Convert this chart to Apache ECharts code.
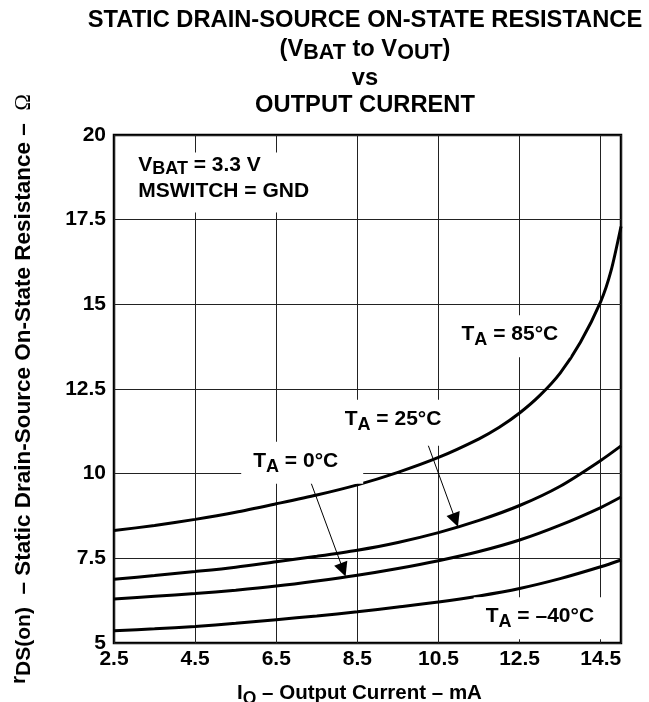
<!DOCTYPE html>
<html><head><meta charset="utf-8">
<script src="https://cdn.jsdelivr.net/npm/echarts@6/dist/echarts.min.js"></script>
<style>html,body{margin:0;padding:0;background:#fff}#c{width:649px;height:702px}</style>
</head><body><div id="c"></div>
<script>
// ---- data ----
const currentMA = [2.5, 3.5, 4.5, 5.5, 6.5, 7.5, 8.5, 9.5, 10.5, 11.5, 12.5, 13.5, 14.5, 15];
const rMinus40 = [5.36, 5.42, 5.49, 5.58, 5.69, 5.80, 5.92, 6.06, 6.21, 6.39, 6.61, 6.90, 7.25, 7.45];
const r0 = [6.30, 6.38, 6.46, 6.56, 6.68, 6.83, 7.00, 7.20, 7.43, 7.70, 8.04, 8.48, 9.00, 9.31];
const r25 = [6.88, 6.99, 7.11, 7.24, 7.40, 7.56, 7.74, 7.97, 8.26, 8.62, 9.06, 9.63, 10.39, 10.82];
const current85 = [2.5, 3.5, 4.5, 5.5, 6.5, 7.5, 8.5, 9.5, 10.5, 11.5, 12.0, 12.5, 13.0, 13.5, 14.0, 14.5, 14.75, 15.0];
const r85 = [8.32, 8.47, 8.65, 8.86, 9.11, 9.37, 9.67, 10.04, 10.48, 11.03, 11.37, 11.79, 12.31, 12.97, 13.88, 15.08, 15.97, 17.3];
const xTickLabels = ['2.5', '4.5', '6.5', '8.5', '10.5', '12.5', '14.5'];
const yTickLabels = ['5', '7.5', '10', '12.5', '15', '17.5', '20'];
const curveLabels = ['T_A = 85°C', 'T_A = 25°C', 'T_A = 0°C', 'T_A = –40°C'];
// anchor points of annotation texts and arrows, in data units (mA, ohm)
const labelAnchors = [[12.26, 14.06], [9.38, 11.50], [7.14, 10.32], [13.0, 5.73]];
const arrow25 = [[10.09, 11.35], [10.92, 8.63]];
const arrow0 = [[7.33, 9.82], [8.15, 7.16]];
const condAnchor = [2.9, 18.6];

// ---- chart ----
const FF = '"Liberation Sans", Arial, Helvetica, sans-serif';
const pair = (xs, ys) => xs.map((x, i) => [x, ys[i]]);
const subRich = (fs, sfs) => ({
  n: { fontSize: fs, fontWeight: 'bold', fontFamily: FF, color: '#000', fill: '#000', lineHeight: 30, verticalAlign: 'middle' },
  s: { fontSize: sfs, fontWeight: 'bold', fontFamily: FF, color: '#000', fill: '#000', lineHeight: 17, verticalAlign: 'bottom' }
});
const toRich = (t) => { const m = t.split('_'); const first = m[0]; const sub = m[1][0]; const rest = m[1].slice(1); return '{n|' + first + '}{s|' + sub + '}{n|' + rest + '}'; };
const labelPads = [[4, 12, 8, 12], [4, 12, 12, 12], [4, 25, 8, 12], [4, 12, 8, 12]];

const chart = echarts.init(document.getElementById('c'), null, { renderer: 'canvas' });
const lineStyle = { color: '#000', width: 3 };
const labelPoints = curveLabels.map((t, i) => ({
  coord: labelAnchors[i], symbol: 'circle', symbolSize: 0,
  label: { show: true, position: 'inside', formatter: toRich(t), rich: subRich(21, 18),
           backgroundColor: '#fff', padding: labelPads[i] }
}));
labelPoints.push({
  coord: condAnchor, symbol: 'circle', symbolSize: 0,
  label: { show: true, position: 'right', distance: 0, align: 'left',
    formatter: '{n|V}{s|BAT}{n| = 3.3 V}\n{n|MSWITCH = GND}',
    rich: {
      n: { fontSize: 21, fontWeight: 'bold', fontFamily: FF, color: '#000', lineHeight: 26, verticalAlign: 'middle' },
      s: { fontSize: 18, fontWeight: 'bold', fontFamily: FF, color: '#000', lineHeight: 13, verticalAlign: 'bottom' }
    },
    backgroundColor: '#fff', padding: [0, 8, 8, 8] }
});

const option = {
  animation: false,
  backgroundColor: '#fff',
  grid: { left: 114, right: 28, top: 135, bottom: 59, outerBoundsMode: 'none', containLabel: false,
          show: true, borderColor: '#000', borderWidth: 2.5, backgroundColor: 'transparent' },
  xAxis: {
    type: 'value', min: 2.5, max: 15, interval: 2,
    axisLine: { show: false }, axisTick: { show: false },
    splitLine: { show: true, lineStyle: { color: '#222', width: 1 } },
    axisLabel: { margin: 6, fontSize: 21, fontWeight: 'bold', fontFamily: FF, color: '#000',
      formatter: (v) => { const s = (Math.round(v * 10) / 10).toFixed(1); return xTickLabels.includes(s) ? s : ''; } },
    name: '{n|I}{s|O}{n| – Output Current – mA}',
    nameLocation: 'middle', nameGap: 35,
    nameTextStyle: { rich: subRich(20.5, 17.5), padding: [0, 16, 0, 0] }
  },
  yAxis: {
    type: 'value', min: 5, max: 20, interval: 2.5,
    axisLine: { show: false }, axisTick: { show: false },
    splitLine: { show: true, lineStyle: { color: '#222', width: 1 } },
    axisLabel: { margin: 8, fontSize: 21, fontWeight: 'bold', fontFamily: FF, color: '#000',
      formatter: (v) => { const s = String(Math.round(v * 10) / 10); return yTickLabels.includes(s) ? s : ''; } },
    name: '{r|r}{d|DS(on)}{m|  – Static Drain-Source On-State Resistance –  }{o|Ω}',
    nameLocation: 'middle', nameGap: 75,
    nameTextStyle: { rich: {
      r: { fontSize: 21, fontWeight: 'bold', fontFamily: FF, color: '#000', lineHeight: 12, verticalAlign: 'top' },
      d: { fontSize: 21, fontWeight: 'bold', fontFamily: FF, color: '#000', lineHeight: 30, verticalAlign: 'middle' },
      m: { fontSize: 22.5, fontWeight: 'bold', fontFamily: FF, color: '#000', lineHeight: 30, verticalAlign: 'middle' },
      o: { fontSize: 22.5, fontWeight: 'normal', fontFamily: '"Liberation Serif", "DejaVu Serif", serif', color: '#000', lineHeight: 30, verticalAlign: 'middle' }
    } }
  },
  series: [
    { name: '85', type: 'line', data: pair(current85, r85), smooth: 0.25, showSymbol: false, symbol: 'none', lineStyle, silent: true,
      markPoint: { silent: true, data: labelPoints } },
    { name: '25', type: 'line', data: pair(currentMA, r25), smooth: 0.3, showSymbol: false, symbol: 'none', lineStyle, silent: true,
      markLine: { silent: true, symbol: ['none', 'triangle'], symbolSize: 14, label: { show: false },
        lineStyle: { color: '#000', width: 1, type: 'solid' },
        data: [[{ coord: arrow25[0] }, { coord: arrow25[1] }], [{ coord: arrow0[0] }, { coord: arrow0[1] }]] } },
    { name: '0', type: 'line', data: pair(currentMA, r0), smooth: 0.3, showSymbol: false, symbol: 'none', lineStyle, silent: true },
    { name: '-40', type: 'line', data: pair(currentMA, rMinus40), smooth: 0.3, showSymbol: false, symbol: 'none', lineStyle, silent: true }
  ],
  graphic: [
    { type: 'text', x: 365, y: 20, silent: true, style: { text: 'STATIC DRAIN-SOURCE ON-STATE RESISTANCE', fontSize: 23.7, fontWeight: 'bold', fontFamily: FF, fill: '#000', align: 'center', verticalAlign: 'middle' } },
    { type: 'text', x: 365, y: 49, silent: true, style: { text: '{n|(V}{s|BAT}{n| to V}{s|OUT}{n|)}', rich: subRich(23.7, 21.5), fill: '#000', align: 'center', verticalAlign: 'middle' } },
    { type: 'text', x: 365, y: 78, silent: true, style: { text: 'vs', fontSize: 23.7, fontWeight: 'bold', fontFamily: FF, fill: '#000', align: 'center', verticalAlign: 'middle' } },
    { type: 'text', x: 365, y: 105, silent: true, style: { text: 'OUTPUT CURRENT', fontSize: 23.7, fontWeight: 'bold', fontFamily: FF, fill: '#000', align: 'center', verticalAlign: 'middle' } }
  ]
};
chart.setOption(option);
</script>
</body></html>
